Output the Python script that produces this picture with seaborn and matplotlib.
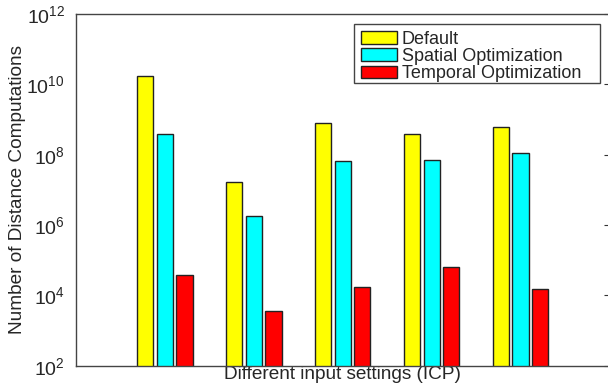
import matplotlib
matplotlib.use("Agg")
import matplotlib.pyplot as plt
from matplotlib.patches import Rectangle
import seaborn as sns
import pandas as pd

settings = ["S1", "S2", "S3", "S4", "S5"]
default_vals = [1.7e10, 1.7e7, 8.0e8, 4.0e8, 6.2e8]
spatial_vals = [3.9e8, 1.8e6, 6.8e7, 7.2e7, 1.1e8]
temporal_vals = [3.9e4, 3.7e3, 1.7e4, 6.2e4, 1.5e4]
series_names = ["Default", "Spatial Optimization", "Temporal Optimization"]
series_colors = ["#FFFF00", "#00FFFF", "#FF0000"]

rows = []
for name, vals in zip(series_names, [default_vals, spatial_vals, temporal_vals]):
    for s, v in zip(settings, vals):
        rows.append({"setting": s, "series": name, "value": v})
df = pd.DataFrame(rows)

sns.set_style("white")
plt.rcParams["font.family"] = ["Liberation Sans", "DejaVu Sans"]
plt.rcParams["mathtext.fontset"] = "custom"
plt.rcParams["mathtext.rm"] = "Liberation Sans"
plt.rcParams["mathtext.it"] = "Liberation Sans"

fig = plt.figure(figsize=(6.08, 3.89), dpi=100)
ax = fig.add_axes([76 / 608, 1 - 365.7 / 389, (609.5 - 76) / 608, (365.7 - 14) / 389])
ax.set_yscale("log")

sns.barplot(data=df, x="setting", y="value", hue="series", order=settings,
            hue_order=series_names, palette=series_colors, width=0.66, gap=0.17,
            edgecolor="#222222", linewidth=1, saturation=1, ax=ax)

ax.set_ylim(1e2, 1e12)
ax.set_xlim(-1, 5)
ax.set_yticks([1e2, 1e4, 1e6, 1e8, 1e10, 1e12])
ax.set_yticklabels([r"$10^{2}$", r"$10^{4}$", r"$10^{6}$", r"$10^{8}$", r"$10^{10}$", r"$10^{12}$"])
ax.yaxis.set_minor_locator(matplotlib.ticker.NullLocator())
ax.set_xticks([])
ax.tick_params(axis="y", which="both", direction="in", left=False, right=True,
               length=4, labelsize=14, colors="#333333", labelcolor="#262626", pad=8)
for s in ax.spines.values():
    s.set_color("#444444")
    s.set_linewidth(1)
ax.set_xlabel("Different input settings (ICP)", fontsize=13.7, color="#262626", labelpad=0.5)
ax.set_ylabel("Number of Distance Computations", fontsize=13.7, color="#262626", labelpad=0)

leg = ax.legend(loc="upper left", bbox_to_anchor=(361 / 608, 1 - 30.5 / 389),
                bbox_transform=fig.transFigure, borderaxespad=0, frameon=False,
                fontsize=13, handlelength=2.0, handleheight=0.7, handletextpad=0.25,
                labelspacing=0.02, borderpad=0, title=None)
for h in leg.legend_handles:
    h.set_edgecolor("#222222")
    h.set_linewidth(1)
fig.patches.append(Rectangle((354 / 608, 1 - 83 / 389), (600 - 354) / 608, (83 - 24.3) / 389,
                             transform=fig.transFigure, fill=False, edgecolor="#444444",
                             linewidth=1, zorder=5))

fig.savefig("out.png", dpi=100)
